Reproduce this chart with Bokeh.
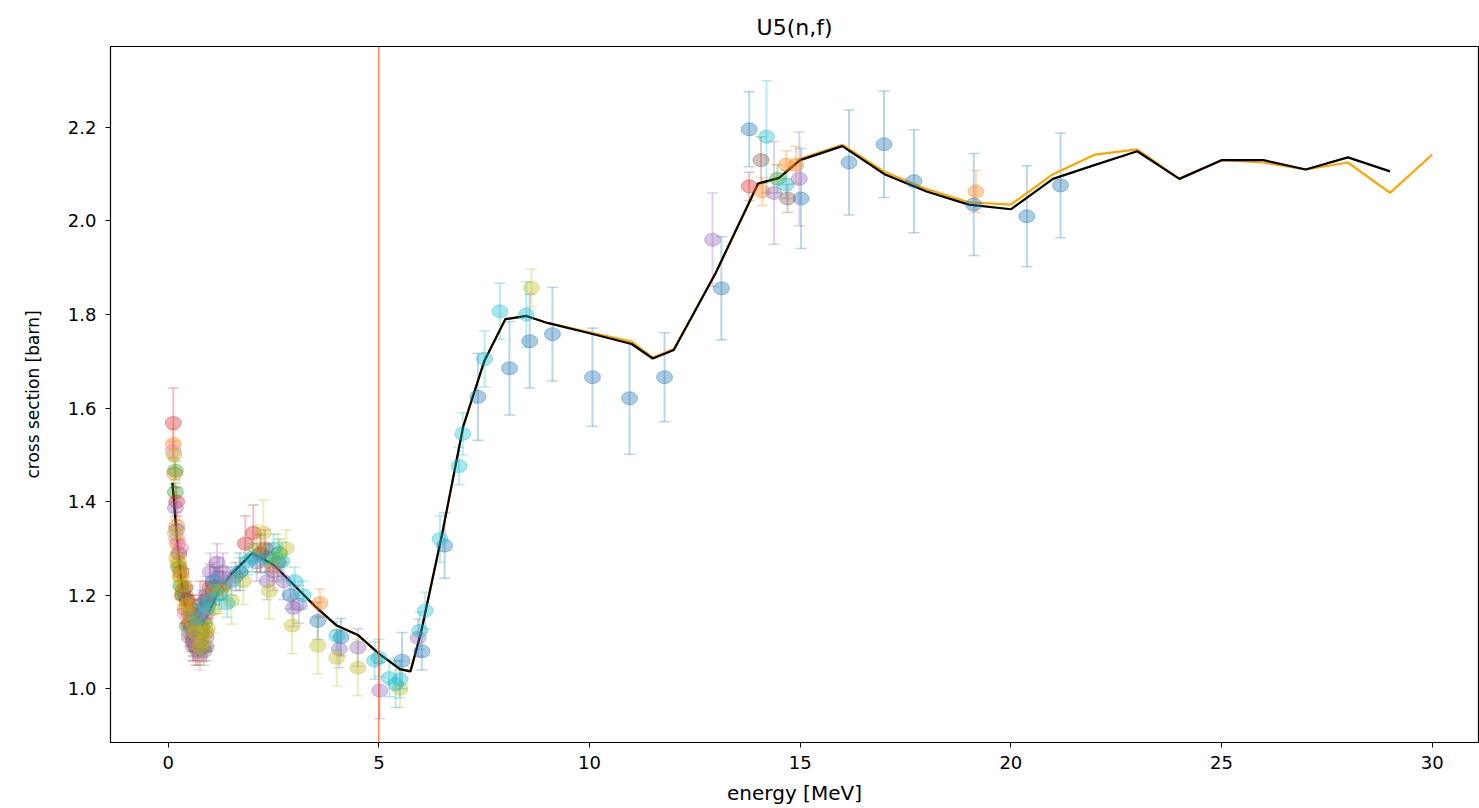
from bokeh.plotting import figure
from bokeh.models import (ColumnDataSource, Whisker, TeeHead, FixedTicker,
                          PrintfTickFormatter, Range1d, BoxAnnotation)
from bokeh.embed import file_html
from bokeh.resources import INLINE

# ---------------- data ----------------
title_text = "U5(n,f)"
# evaluated curve 1 (black)
e_black = [0.1, 0.2, 0.3, 0.4, 0.5, 0.6, 0.7, 0.8, 1.0, 1.2, 1.5, 2.0, 2.5, 3.0,
           3.5, 4.0, 4.5, 5.0, 5.5, 5.75, 6.0, 6.5, 7.0, 7.5, 8.0, 8.5, 9.0,
           10.0, 11.0, 11.5, 12.0, 13.0, 14.0, 14.5, 15.0, 16.0, 17.0, 18.0,
           19.0, 20.0, 21.0, 22.0, 23.0, 24.0, 25.0, 26.0, 27.0, 28.0, 29.0]
xs_black = [1.44, 1.33, 1.24, 1.18, 1.14, 1.12, 1.12, 1.135, 1.17, 1.21, 1.245,
            1.29, 1.265, 1.22, 1.175, 1.135, 1.115, 1.075, 1.042, 1.037, 1.12,
            1.33, 1.56, 1.70, 1.79, 1.797, 1.782, 1.76, 1.737, 1.706, 1.724,
            1.89, 2.08, 2.092, 2.13, 2.16, 2.10, 2.063, 2.035, 2.025, 2.09,
            2.12, 2.149, 2.09, 2.13, 2.13, 2.11, 2.136, 2.106]
# evaluated curve 2 (orange)
e_orange = [0.1, 0.2, 0.3, 0.4, 0.5, 0.6, 0.7, 0.8, 1.0, 1.2, 1.5, 2.0, 2.5, 3.0,
            3.5, 4.0, 4.5, 5.0, 5.5, 5.75, 6.0, 6.5, 7.0, 7.5, 8.0, 8.5, 9.0,
            10.0, 11.0, 11.5, 12.0, 13.0, 14.0, 14.5, 15.0, 16.0, 17.0, 18.0,
            19.0, 20.0, 21.0, 22.0, 23.0, 24.0, 25.0, 26.0, 27.0, 28.0, 29.0, 30.0]
xs_orange = [1.44, 1.33, 1.24, 1.18, 1.14, 1.12, 1.12, 1.135, 1.17, 1.21, 1.245,
             1.29, 1.265, 1.22, 1.175, 1.135, 1.115, 1.075, 1.042, 1.037, 1.12,
             1.33, 1.56, 1.70, 1.79, 1.797, 1.782, 1.762, 1.742, 1.708, 1.726,
             1.89, 2.078, 2.092, 2.133, 2.163, 2.105, 2.068, 2.04, 2.035, 2.10,
             2.142, 2.153, 2.09, 2.13, 2.125, 2.11, 2.125, 2.06, 2.142]

# experimental data sets (colour, energy, cross section, uncertainty)
exp_sets = [
    ("#1f77b4",
     [0.8, 0.95, 1.1, 1.3, 1.7, 2.18, 2.6, 2.9, 3.55, 4.1, 5.55, 6.02, 6.56, 7.35,
      8.1, 8.58, 9.12, 10.07, 10.95, 11.78, 13.13, 13.79, 15.02, 16.16, 16.99, 17.7,
      19.12, 20.38, 21.18],
     [1.13, 1.18, 1.21, 1.22, 1.25, 1.288, 1.27, 1.20, 1.145, 1.11, 1.06, 1.08,
      1.306, 1.624, 1.685, 1.743, 1.758, 1.666, 1.621, 1.666, 1.856, 2.196, 2.048,
      2.125, 2.164, 2.085, 2.035, 2.01, 2.076],
     [0.03, 0.03, 0.03, 0.03, 0.04, 0.04, 0.03, 0.03, 0.04, 0.04, 0.06, 0.04, 0.07,
      0.093, 0.1, 0.1, 0.1, 0.105, 0.12, 0.095, 0.11, 0.08, 0.107, 0.112, 0.114,
      0.11, 0.109, 0.108, 0.112]),
    ("#ff7f0e",
     [0.12, 0.15, 0.2, 0.22, 0.24, 0.25, 0.3, 0.33, 0.35, 0.4, 0.45, 0.55, 0.6,
      0.7, 0.75, 0.85, 0.9, 0.95, 1.3, 2.5, 3.6, 14.1, 14.67, 14.9, 19.17],
     [1.523, 1.46, 1.348, 1.31, 1.27, 1.288, 1.24, 1.2, 1.21, 1.17, 1.19, 1.17,
      1.15, 1.10, 1.13, 1.15, 1.12, 1.195, 1.22, 1.26, 1.183, 2.063, 2.12, 2.12,
      2.063],
     [0.03, 0.03, 0.03, 0.03, 0.03, 0.03, 0.03, 0.03, 0.03, 0.03, 0.03, 0.03, 0.03,
      0.03, 0.03, 0.03, 0.03, 0.03, 0.03, 0.03, 0.03, 0.03, 0.03, 0.04, 0.045]),
    ("#2ca02c",
     [0.17, 0.17, 0.25, 0.3, 0.35, 0.45, 0.5, 0.55, 0.6, 0.65, 0.7, 0.75, 0.85,
      2.4, 2.64, 14.46],
     [1.466, 1.42, 1.26, 1.22, 1.20, 1.135, 1.16, 1.13, 1.10, 1.11, 1.08, 1.12,
      1.14, 1.28, 1.29, 2.09],
     [0.02, 0.02, 0.03, 0.03, 0.03, 0.03, 0.03, 0.03, 0.03, 0.03, 0.03, 0.03, 0.03,
      0.03, 0.03, 0.03]),
    ("#d62728",
     [0.12, 0.2, 0.3, 0.4, 0.45, 0.5, 0.55, 0.59, 0.65, 0.7, 0.76, 0.8, 0.9, 0.99,
      1.1, 1.83, 2.02, 2.2, 2.3, 13.79],
     [1.568, 1.40, 1.25, 1.216, 1.19, 1.14, 1.16, 1.11, 1.09, 1.10, 1.18, 1.12,
      1.19, 1.216, 1.22, 1.31, 1.333, 1.29, 1.30, 2.074],
     [0.075, 0.03, 0.04, 0.04, 0.04, 0.04, 0.04, 0.05, 0.04, 0.04, 0.05, 0.04, 0.04,
      0.05, 0.04, 0.06, 0.06, 0.04, 0.04, 0.03]),
    ("#9467bd",
     [0.17, 0.2, 0.25, 0.6, 0.8, 0.9, 1.0, 1.07, 1.16, 1.2, 1.3, 2.1, 2.35, 2.5,
      2.74, 2.97, 3.1, 4.06, 4.5, 5.02, 5.93, 12.92, 14.38, 14.98],
     [1.387, 1.34, 1.29, 1.09, 1.16, 1.2, 1.25, 1.23, 1.27, 1.24, 1.25, 1.27, 1.23,
      1.25, 1.23, 1.173, 1.18, 1.085, 1.088, 0.996, 1.109, 1.96, 2.06, 2.09],
     [0.02, 0.02, 0.03, 0.03, 0.04, 0.04, 0.04, 0.04, 0.04, 0.04, 0.04, 0.04, 0.04,
      0.04, 0.04, 0.04, 0.04, 0.04, 0.04, 0.06, 0.04, 0.1, 0.11, 0.1]),
    ("#8c564b",
     [0.6, 0.7, 0.9, 1.2, 1.6, 14.07, 14.7],
     [1.16, 1.15, 1.09, 1.22, 1.24, 2.13, 2.048],
     [0.03, 0.03, 0.03, 0.03, 0.03, 0.05, 0.03]),
    ("#e377c2",
     [0.12, 0.2, 0.3, 0.4, 0.5, 0.6, 0.68, 0.75, 0.9, 1.4],
     [1.508, 1.32, 1.30, 1.16, 1.11, 1.13, 1.095, 1.07, 1.16, 1.23],
     [0.02, 0.03, 0.03, 0.03, 0.03, 0.03, 0.03, 0.03, 0.03, 0.03]),
    ("#7f7f7f",
     [0.4, 0.5, 0.6, 0.7, 0.83, 0.85, 0.9],
     [1.2, 1.12, 1.10, 1.13, 1.088, 1.08, 1.11],
     [0.03, 0.03, 0.03, 0.03, 0.03, 0.03, 0.03]),
    ("#bcbd22",
     [0.14, 0.17, 0.2, 0.25, 0.28, 0.35, 0.45, 0.5, 0.6, 0.65, 0.75, 0.8, 0.85,
      0.93, 1.05, 1.1, 1.25, 1.5, 1.78, 2.1, 2.26, 2.4, 2.6, 2.8, 2.94, 3.55, 4.0,
      4.5, 5.5, 8.62],
     [1.50, 1.333, 1.28, 1.26, 1.24, 1.22, 1.18, 1.16, 1.14, 1.12, 1.09, 1.10, 1.12,
      1.13, 1.17, 1.21, 1.21, 1.188, 1.23, 1.30, 1.333, 1.209, 1.28, 1.30, 1.135,
      1.092, 1.066, 1.045, 1.0, 1.857],
     [0.03, 0.03, 0.03, 0.04, 0.05, 0.04, 0.04, 0.04, 0.04, 0.04, 0.04, 0.04, 0.04,
      0.05, 0.05, 0.05, 0.05, 0.05, 0.05, 0.05, 0.07, 0.06, 0.05, 0.04, 0.06, 0.06,
      0.06, 0.06, 0.04, 0.04]),
    ("#17becf",
     [0.7, 0.8, 0.9, 1.0, 1.1, 1.2, 1.4, 1.5, 1.7, 1.9, 2.0, 2.3, 2.5, 2.7, 3.0,
      3.2, 4.0, 4.9, 5.0, 5.25, 5.4, 5.5, 5.97, 6.1, 6.45, 6.9, 6.99, 7.51, 7.87,
      8.5, 14.2, 14.67],
     [1.15, 1.18, 1.17, 1.19, 1.23, 1.20, 1.183, 1.23, 1.25, 1.273, 1.28, 1.278,
      1.30, 1.273, 1.23, 1.20, 1.113, 1.06, 1.066, 1.023, 1.01, 1.02, 1.124, 1.167,
      1.32, 1.476, 1.545, 1.705, 1.807, 1.80, 2.18, 2.078],
     [0.03, 0.03, 0.03, 0.03, 0.03, 0.03, 0.03, 0.03, 0.03, 0.03, 0.03, 0.03, 0.03,
      0.04, 0.03, 0.03, 0.03, 0.04, 0.04, 0.04, 0.05, 0.04, 0.04, 0.04, 0.05, 0.04,
      0.045, 0.06, 0.06, 0.07, 0.12, 0.03]),
]

x_ticks = [0, 5, 10, 15, 20, 25, 30]
y_ticks = [1.0, 1.2, 1.4, 1.6, 1.8, 2.0, 2.2]
vline_energy = 5.0

# ---------------- figure ----------------
FONT = "DejaVu Sans"
p = figure(width=1479, height=808, output_backend="svg", toolbar_location=None,
           x_range=Range1d(-1.37, 31.1), y_range=Range1d(0.885, 2.373),
           title=title_text, min_border_left=110, min_border_right=1,
           min_border_top=46, min_border_bottom=66)
p.title.align = "center"
p.title.text_font = FONT
p.title.text_font_size = "22px"
p.title.text_font_style = "normal"
p.title.text_color = "black"
p.title.standoff = 14

p.xgrid.visible = False
p.ygrid.visible = False
p.outline_line_color = "black"
p.outline_line_width = 1.2
p.background_fill_color = "white"
p.border_fill_color = "white"

for ax in (p.xaxis[0], p.yaxis[0]):
    ax.axis_line_color = "black"
    ax.major_tick_line_color = "black"
    ax.major_tick_out = 5
    ax.major_tick_in = 0
    ax.minor_tick_line_color = None
    ax.major_label_text_font = FONT
    ax.major_label_text_font_size = "18px"
    ax.major_label_text_color = "black"
    ax.axis_label_text_font = FONT
    ax.axis_label_text_font_style = "normal"
    ax.axis_label_text_color = "black"

p.xaxis.axis_label_text_font_size = "20px"
p.yaxis.axis_label_text_font_size = "17px"
p.xaxis.ticker = FixedTicker(ticks=x_ticks)
p.yaxis.ticker = FixedTicker(ticks=y_ticks)
p.yaxis.formatter = PrintfTickFormatter(format="%.1f")
p.xaxis.axis_label = "energy [MeV]"
p.yaxis.axis_label = "cross section [barn]"
p.xaxis.major_label_standoff = 8
p.yaxis.major_label_standoff = 9
p.xaxis.axis_label_standoff = 9
p.yaxis.axis_label_standoff = 22

# model curves (drawn under the data points)
p.line(e_orange, xs_orange, line_color="orange", line_width=2.2)
p.line(e_black, xs_black, line_color="black", line_width=2.2)

# experimental points with error bars
for color, e, xs, err in exp_sets:
    src = ColumnDataSource(dict(
        x=e, y=xs,
        lo=[v - d for v, d in zip(xs, err)],
        hi=[v + d for v, d in zip(xs, err)]))
    w = Whisker(base="x", lower="lo", upper="hi", source=src,
                line_color=color, line_alpha=0.3, line_width=2,
                upper_head=TeeHead(size=11, line_color=color, line_alpha=0.3, line_width=1.5),
                lower_head=TeeHead(size=11, line_color=color, line_alpha=0.3, line_width=1.5))
    p.add_layout(w)
    p.ellipse(x="x", y="y", width=16, height=13, width_units="screen",
              height_units="screen", source=src, fill_color=color,
              fill_alpha=0.38, line_color=color, line_alpha=0.38)

# vertical marker line, extending past the frame like the reference
vline = BoxAnnotation(left=vline_energy - 0.012, right=vline_energy + 0.012,
                      top=46, bottom=808, top_units="canvas", bottom_units="canvas",
                      fill_color="#ff4500", fill_alpha=1.0, line_color=None,
                      level="overlay")
p.add_layout(vline)

open("out.html", "w").write(file_html(p, INLINE))
